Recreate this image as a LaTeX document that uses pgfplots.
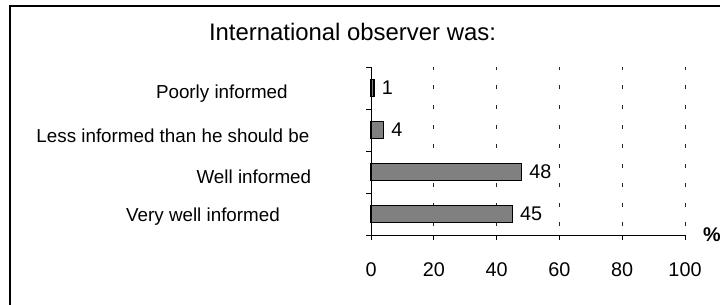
\documentclass[border=0pt]{standalone}
\usepackage{fontspec}
\setmainfont{Liberation Sans}
\usepackage{pgfplots}
\pgfplotsset{compat=1.18}
\definecolor{bargray}{HTML}{808080}
\newcommand{\labfont}{\fontsize{18.8bp}{22bp}\selectfont}
\newcommand{\tickfont}{\fontsize{19.8bp}{23bp}\selectfont}
\begin{document}
\begin{tikzpicture}[x=1bp,y=1bp]
\useasboundingbox (0,0) rectangle (720,304);
\begin{scope}
\clip (0,0) rectangle (720,304);
\draw[line width=1.5bp] (10,-5) -- (10,298) -- (725,298);
\node[font=\fontsize{23.9bp}{28bp}\selectfont] at (352.5,272.5) {International observer was:};
\begin{axis}[
  at={(371bp,69bp)}, anchor=south west, scale only axis,
  width=314bp, height=168bp,
  xmin=0, xmax=100, ymin=0, ymax=4,
  clip=false,
  axis x line=bottom, axis y line=left,
  axis line style={-, line width=1bp, black},
  xtick={0,20,40,60,80},
  extra x ticks={100},
  extra x tick style={grid style={gray!55, line width=0.8bp, dash pattern=on 4bp off 15.5bp, dash phase=10.5bp}},
  ytick={0,1,2,3,4}, yticklabels={},
  tick align=outside, major tick length=5bp,
  tick style={black, line width=0.8bp},
  xmajorgrids,
  major grid style={black!85, line width=0.8bp, dash pattern=on 4bp off 15.5bp, dash phase=10.5bp},
  /pgf/number format/assume math mode=true,
  xticklabel style={font=\tickfont, anchor=center, yshift=-30bp},
]
\addplot[xbar, bar width=17bp, fill=bargray, draw=black, line width=1.4bp,
  nodes near coords,
  nodes near coords style={anchor=west, inner sep=0pt, xshift=7bp, font=\tickfont, black}]
  coordinates {(45,0.5) (48,1.5) (4,2.5) (1,3.5)};
\node[font=\labfont] at (axis cs:-47.5,3.36) {Poorly informed};
\node[font=\labfont] at (axis cs:-63.1,2.36) {Less informed than he should be};
\node[font=\labfont] at (axis cs:-37.3,1.38) {Well informed};
\node[font=\labfont] at (axis cs:-53.5,0.43) {Very well informed};
\node[font=\tickfont\bfseries, anchor=west, inner sep=0pt, xshift=18bp] at (axis cs:100,0) {\%};
\end{axis}
\end{scope}
\end{tikzpicture}
\end{document}
